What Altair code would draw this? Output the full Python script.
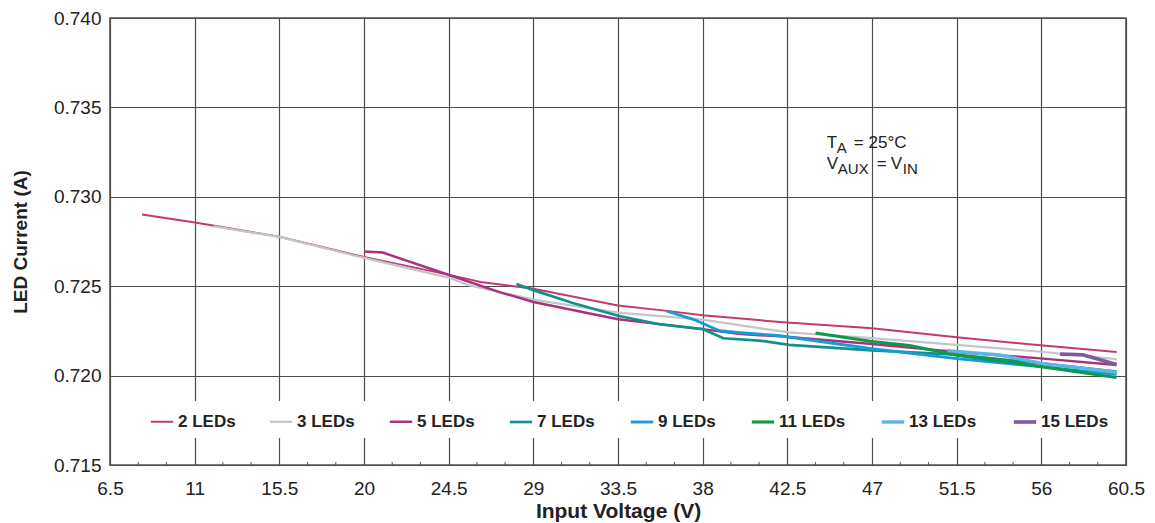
import altair as alt
import pandas as pd

# ---------------- data ----------------
series_names = ["2 LEDs", "3 LEDs", "5 LEDs", "7 LEDs", "9 LEDs", "11 LEDs", "13 LEDs", "15 LEDs"]
series_colors = ["#c23b6f", "#c3c6ca", "#a8327e", "#138f8c", "#1a9ad6", "#0c9a4b", "#5cb6e3", "#7d5b9d"]
series_widths = [2.0, 3.6, 2.0, 2.0, 3.2, 3.4, 3.8, 3.8]

v_2 = [8.2, 11.1, 15.5, 20.0, 24.6, 26.2, 29.0, 33.5, 36.1, 38.0, 42.1, 47.0, 51.5, 56.1, 60.0]
i_2 = [0.72901, 0.72855, 0.72776, 0.72663, 0.72562, 0.72524, 0.72486, 0.72392, 0.72362, 0.72337,
       0.72300, 0.72265, 0.72214, 0.72168, 0.72132]

v_3 = [12.0, 15.5, 20.0, 24.6, 25.5, 29.0, 33.5, 38.0, 41.0, 42.6, 47.0, 51.5, 56.1, 60.0]
i_3 = [0.72835, 0.72776, 0.72658, 0.72545, 0.72507, 0.72425, 0.72352, 0.72313, 0.72265, 0.72242,
       0.72209, 0.72172, 0.72132, 0.72092]

v_5 = [20.0, 21.0, 24.6, 27.2, 29.0, 33.5, 38.0, 40.0, 42.1, 47.0, 51.5, 56.1, 60.0]
i_5 = [0.72694, 0.72688, 0.72560, 0.72467, 0.72412, 0.72315, 0.72260, 0.72232, 0.72220, 0.72177,
       0.72132, 0.72095, 0.72059]

v_7 = [28.1, 29.0, 31.1, 33.5, 35.7, 38.0, 39.1, 41.0, 42.6, 47.0, 51.5, 56.1, 60.0]
i_7 = [0.72512, 0.72478, 0.72406, 0.72335, 0.72287, 0.72260, 0.72209, 0.72196, 0.72172, 0.72141,
       0.72117, 0.72067, 0.72022]

v_9 = [36.1, 37.5, 38.9, 40.0, 42.1, 47.0, 51.5, 56.1, 60.0]
i_9 = [0.72361, 0.72315, 0.72251, 0.72240, 0.72223, 0.72150, 0.72095, 0.72049, 0.72007]

v_11 = [44.0, 47.0, 49.0, 51.5, 56.1, 60.0]
i_11 = [0.72238, 0.72191, 0.72168, 0.72114, 0.72049, 0.71989]

v_13 = [51.0, 53.8, 56.1, 58.0, 60.0]
i_13 = [0.72140, 0.72115, 0.72067, 0.72045, 0.72018]

v_15 = [57.0, 58.2, 60.0]
i_15 = [0.72120, 0.72117, 0.72062]

x_ticks = [6.5, 11, 15.5, 20, 24.5, 29, 33.5, 38, 42.5, 47, 51.5, 56, 60.5]
y_ticks = [0.715, 0.720, 0.725, 0.730, 0.735, 0.740]

# ---------------- tables ----------------
rows = []
for name, vs, cs in zip(series_names,
                        [v_2, v_3, v_5, v_7, v_9, v_11, v_13, v_15],
                        [i_2, i_3, i_5, i_7, i_9, i_11, i_13, i_15]):
    for k, (v, c) in enumerate(zip(vs, cs)):
        rows.append({"series": name, "vin": v, "iled": c, "k": k})
df = pd.DataFrame(rows)

minor_ticks = [t + d for t in x_ticks[:-1] for d in (1.5, 3.0)]
minor_df = pd.DataFrame({"vin": minor_ticks, "iled": [0.715] * len(minor_ticks),
                         "iled2": [0.71517] * len(minor_ticks)})

FONT = "Liberation Sans"
TXT = "#222222"

X = alt.X("vin:Q", scale=alt.Scale(domain=[6.5, 60.5], nice=False, zero=False),
          axis=alt.Axis(values=x_ticks, labelExpr="'' + datum.value", title="Input Voltage (V)",
                        labelFont=FONT, labelFontSize=19, labelPadding=14,
                        titleFont=FONT, titleFontSize=21, titleFontWeight="bold",
                        titlePadding=2, labelFlush=False))
Y = alt.Y("iled:Q", scale=alt.Scale(domain=[0.715, 0.740], nice=False, zero=False),
          axis=alt.Axis(values=y_ticks, format=".3f", title="LED Current (A)",
                        labelFont=FONT, labelFontSize=19, labelPadding=9,
                        titleFont=FONT, titleFontSize=19, titleFontWeight="bold",
                        titlePadding=23, labelFlush=False))

legend = alt.Legend(title=None, orient="none", legendX=31, legendY=383,
                    direction="horizontal", columns=8, symbolType="stroke",
                    symbolSize=500, labelFont=FONT, labelFontSize=17,
                    labelFontWeight="bold", labelColor=TXT, fillColor="white",
                    padding=8, columnPadding=29, labelOffset=3)

lines = alt.Chart(df).mark_line().encode(
    x=X, y=Y,
    color=alt.Color("series:N", scale=alt.Scale(domain=series_names, range=series_colors),
                    legend=legend),
    strokeWidth=alt.StrokeWidth("series:N",
                                scale=alt.Scale(domain=series_names, range=series_widths),
                                legend=legend),
    order="k:Q",
)

minor = alt.Chart(minor_df).mark_rule(color="#555555", strokeWidth=1).encode(
    x=X, y=Y, y2="iled2:Q")

# annotation anchor (data coordinates)
anno_v = [44.6]
anno_i1 = [0.73272]
anno_i2 = [0.73156]
a1 = pd.DataFrame({"vin": anno_v, "iled": anno_i1})
a2 = pd.DataFrame({"vin": anno_v, "iled": anno_i2})


def txt(d, s, size, dx=0, dy=0):
    return alt.Chart(d).mark_text(text=s, align="left", baseline="alphabetic", font=FONT,
                                  fontSize=size, color=TXT, dx=dx, dy=dy).encode(x=X, y=Y)


annots = [
    txt(a1, "T", 17),
    txt(a1, "A", 15, dx=10, dy=5),
    txt(a1, "= 25°C", 17, dx=27),
    txt(a2, "V", 17),
    txt(a2, "AUX", 15, dx=11, dy=5),
    txt(a2, "=", 17, dx=50),
    txt(a2, "V", 17, dx=64),
    txt(a2, "IN", 15, dx=76, dy=5),
]

chart = alt.layer(lines, minor, *annots).properties(
    width=1016, height=447,
    autosize=alt.AutoSizeParams(type="none"),
    padding={"left": 102, "top": 10, "right": 21, "bottom": 57},
).configure_view(
    stroke="#555555", strokeWidth=1.6
).configure_axis(
    grid=True, gridColor="#4d4d4d", gridWidth=1.2, domain=False, ticks=False,
    labelColor=TXT, titleColor=TXT,
)

chart.save("out.html", embed_options={"renderer": "svg", "actions": False})
